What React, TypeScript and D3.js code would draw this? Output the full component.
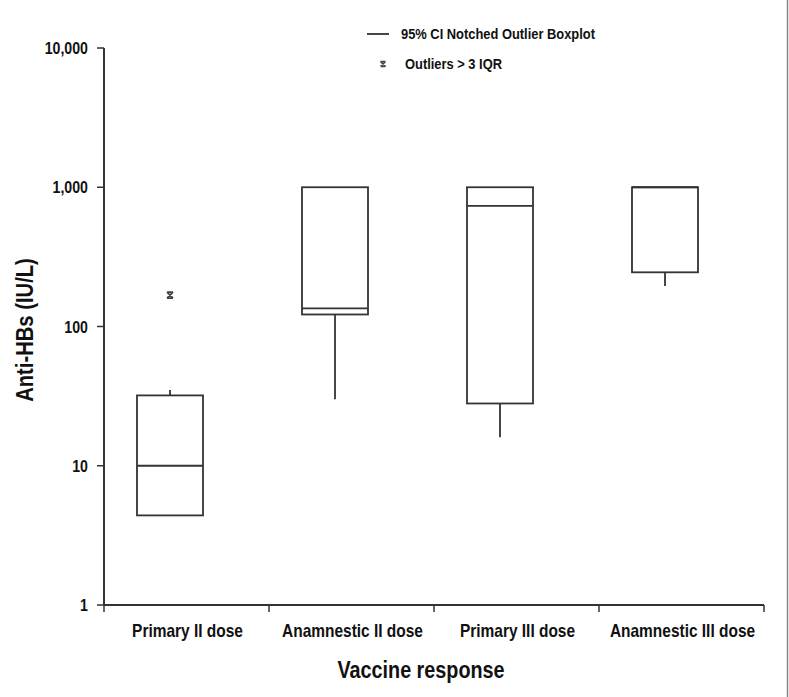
import React from "react";
import * as d3 from "d3";

const categories = ["Primary II dose", "Anamnestic II dose", "Primary III dose", "Anamnestic III dose"];
const whiskerLow = [4.4, 30, 16, 195];
const q1 = [4.4, 122, 28, 245];
const median = [10, 135, 735, 1000];
const q3 = [32, 1000, 1000, 1000];
const whiskerHigh = [35, 1000, 1000, 1000];
const outliers: [number, number][] = [[0, 168]];
const yTicks = [1, 10, 100, 1000, 10000];

const W = 789, H = 697;
const m = { left: 104, right: 764, top: 48, bottom: 605 };
const FONT = "'Liberation Sans', Arial, sans-serif";
const C = "#333";
const SX = 0.86;

function T({ x, y, size, anchor = "start", rotate = 0, children }: any) {
  return (
    <text
      transform={`translate(${x},${y}) rotate(${rotate}) scale(${SX},1)`}
      textAnchor={anchor}
      fontSize={size}
      fontWeight="bold"
      fill="#111"
    >
      {children}
    </text>
  );
}

function Marker({ x, y, s = 3.5 }: { x: number; y: number; s?: number }) {
  return (
    <path
      d={`M${x - s},${y - s}L${x + s},${y + s}M${x + s},${y - s}L${x - s},${y + s}M${x - s},${y - s}H${x + s}M${x - s},${y + s}H${x + s}`}
      stroke="#444"
      strokeWidth={1.6}
      fill="none"
    />
  );
}

export default function App() {
  const x = d3.scaleBand<string>().domain(categories).range([m.left, m.right]);
  const y = d3.scaleLog().domain([1, 10000]).range([m.bottom, m.top]);
  const bw = x.bandwidth();
  const boxW = bw * 0.4;
  const cx = (i: number) => (x(categories[i]) as number) + bw * 0.4;
  const fmt = d3.format(",");
  const boundaries = [...categories.map((c) => x(c) as number), m.right];

  return (
    <svg width={W} height={H} style={{ position: "absolute", left: 0, top: 0, background: "#fff" }} fontFamily={FONT}>
      <line x1={W - 1.5} x2={W - 1.5} y1={0} y2={H} stroke="#888" strokeWidth={1.5} />
      {/* Y axis */}
      <line x1={m.left} x2={m.left} y1={m.top} y2={m.bottom} stroke={C} strokeWidth={2} />
      {yTicks.map((t) => (
        <g key={t}>
          <line x1={m.left - 7} x2={m.left} y1={y(t)} y2={y(t)} stroke={C} strokeWidth={1.5} />
          <T x={88} y={y(t) + 6} size={16.5} anchor="end">{fmt(t)}</T>
        </g>
      ))}
      {/* X axis */}
      <line x1={m.left} x2={m.right} y1={m.bottom} y2={m.bottom} stroke={C} strokeWidth={2} />
      {boundaries.map((b, i) => (
        <line key={i} x1={b} x2={b} y1={m.bottom} y2={m.bottom + 7} stroke={C} strokeWidth={1.5} />
      ))}
      {categories.map((c) => (
        <T key={c} x={(x(c) as number) + bw / 2 + 1} y={637} size={18} anchor="middle">{c}</T>
      ))}
      <T x={421} y={678} size={23} anchor="middle">Vaccine response</T>
      <T x={33} y={330} size={23.5} anchor="middle" rotate={-90}>Anti-HBs (IU/L)</T>
      {/* Boxes */}
      {categories.map((c, i) => (
        <g key={c} stroke={C} strokeWidth={1.8} fill="none">
          <line x1={cx(i)} x2={cx(i)} y1={y(q3[i])} y2={y(whiskerHigh[i])} />
          <line x1={cx(i)} x2={cx(i)} y1={y(q1[i])} y2={y(whiskerLow[i])} />
          <rect x={cx(i) - boxW / 2} y={y(q3[i])} width={boxW} height={y(q1[i]) - y(q3[i])} />
          <line x1={cx(i) - boxW / 2} x2={cx(i) + boxW / 2} y1={y(median[i])} y2={y(median[i])} />
        </g>
      ))}
      {outliers.map(([i, v], k) => (
        <Marker key={k} x={cx(i)} y={y(v)} s={3} />
      ))}
      {/* Legend */}
      <line x1={367} x2={389} y1={34} y2={34} stroke={C} strokeWidth={1.8} />
      <T x={401} y={39} size={15}>95% CI Notched Outlier Boxplot</T>
      <Marker x={383} y={64} s={2.5} />
      <T x={405} y={69} size={15}>Outliers &gt; 3 IQR</T>
    </svg>
  );
}
